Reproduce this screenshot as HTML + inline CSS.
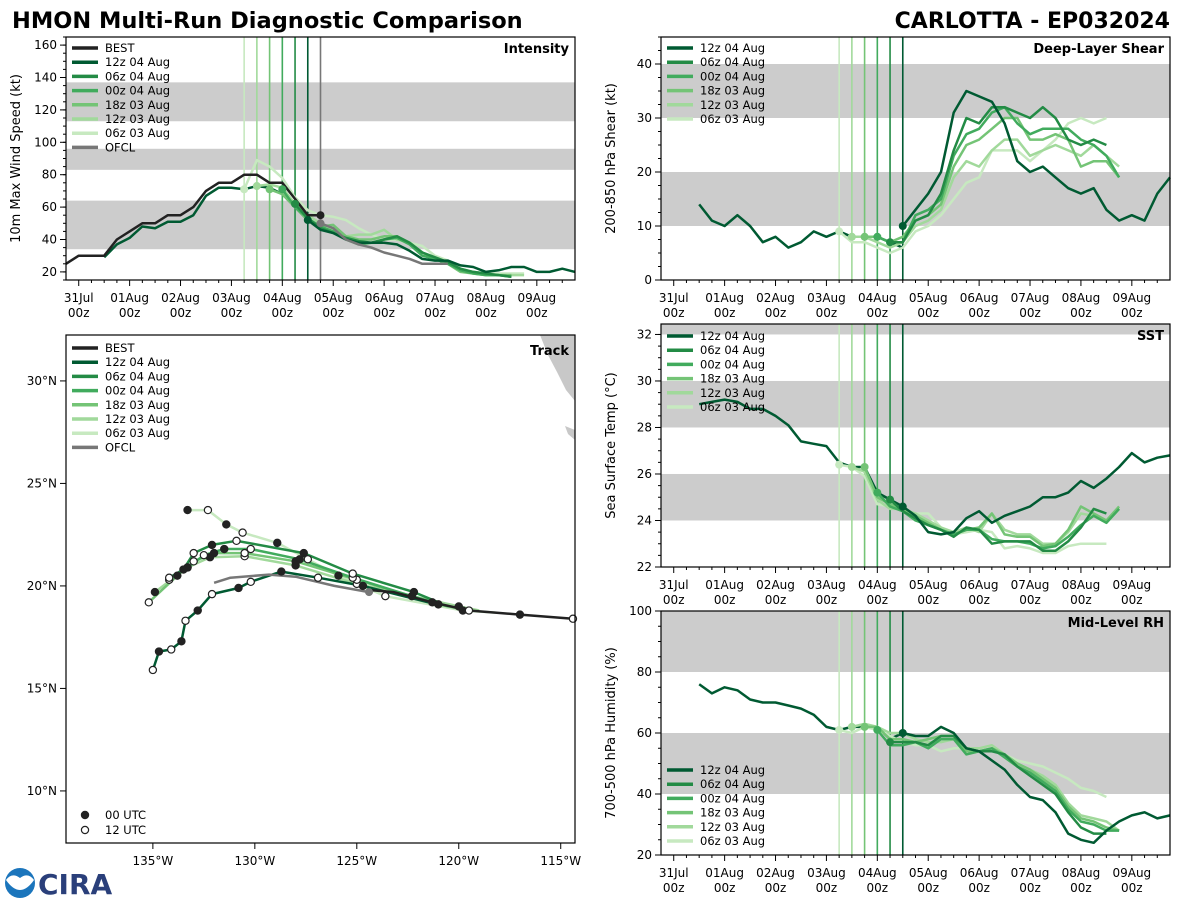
<!DOCTYPE html>
<html><head><meta charset="utf-8"><style>
html,body{margin:0;padding:0;background:#fff;width:1200px;height:900px;overflow:hidden}
svg text{font-family:"DejaVu Sans","Liberation Sans",sans-serif}
</style></head><body>
<svg id="chart" xmlns="http://www.w3.org/2000/svg" width="1200" height="900" viewBox="0 0 1200 900">
<text x="12" y="28" font-size="22.5" font-weight="bold" fill="#000">HMON Multi-Run Diagnostic Comparison</text>
<text x="1170" y="28" font-size="22" font-weight="bold" fill="#000" text-anchor="end">CARLOTTA - EP032024</text>
<g>
<circle cx="20" cy="883" r="15" fill="#1b75bc"/><path d="M6,880 Q20,900 34,880 Q28,872 20,878 Q12,872 6,880Z" fill="#fff"/>
<text x="38" y="894" font-size="28" font-weight="bold" fill="#2a3f7a" font-family="Liberation Serif,serif">CIRA</text>
</g>
</svg>
<script>
// ---------- data ----------
const runNames = ["12z 04 Aug","06z 04 Aug","00z 04 Aug","18z 03 Aug","12z 03 Aug","06z 03 Aug"];
const runColors = ["#005a32","#238b45","#41ab5d","#74c476","#a1d99b","#c7e9c0"];
const runInit = [4.5,4.25,4.0,3.75,3.5,3.25]; // days since 31Jul 00z
const dayLabels = ["31Jul","01Aug","02Aug","03Aug","04Aug","05Aug","06Aug","07Aug","08Aug","09Aug"];
const ofclInit = 4.75;
// intensity (6-hourly from start)
const bestStart = -0.25;
const bestVmax = [25,30,30,30,40,45,50,50,55,55,60,70,75,75,80,80,75,75,65,55,55];
const intHistStart = 0.5;
const intHist = [29,37,41,48,47,51,51,55,67,72,72,71,73,72,68,60,52];
const int12z04 = [52,46,44,40,38,38,38,37,33,28,27,27,24,23,20,21,23,23,20,20,22,20];
const int06z04 = [62,53,47,44,41,39,38,40,42,38,32,29,26,22,20,19,18,17];
const int00z04 = [71,60,53,48,45,40,37,38,40,41,37,30,28,25,21,19,18,18,17];
const int18z03 = [71,68,60,52,48,49,42,40,40,42,42,38,32,28,25,20,19,18,18,18];
const int12z03 = [73,74,72,62,55,50,46,42,43,43,46,40,38,32,29,26,21,20,19,18,18,18];
const int06z03 = [71,89,85,78,66,58,55,54,52,47,43,40,40,38,36,30,27,22,20,19,19,19,19];
const ofclVmax = [50,47,40,37,35,32,30,28,25,25,25];
// shear
const shrHist = [14,11,10,12,10,7,8,6,7,9,8,9,8,8,8,7,6];
const shr12z04 = [10,13,16,20,31,35,34,33,29,22,20,21,19,17,16,17,13,11,12,11,16,19];
const shr06z04 = [7,7,11,12,16,24,30,29,32,32,31,30,32,30,26,25,26,25];
const shr00z04 = [8,7,7,12,13,15,23,27,28,31,32,29,27,28,28,28,26,25,23,19];
const shr18z03 = [8,8,7,8,11,12,14,21,25,26,28,30,30,26,26,27,26,21,22,22,19];
const shr12z03 = [8,8,7,6,7,10,11,13,19,22,21,24,26,26,23,24,25,24,23,25,23,21];
const shr06z03 = [9,7,7,6,5,6,9,10,12,15,18,19,24,24,24,22,24,26,29,30,29,30];
// sst
const sstHist = [29.0,29.1,29.2,29.1,28.8,28.8,28.5,28.1,27.4,27.3,27.2,26.5,26.3,26.3,25.2,24.9,24.6];
const sst12z04 = [24.6,24.2,23.5,23.4,23.5,24.1,24.4,23.9,24.2,24.4,24.6,25.0,25.0,25.2,25.7,25.4,25.8,26.3,26.9,26.5,26.7,26.8];
const sst06z04 = [24.9,24.4,24.1,23.8,23.6,23.3,23.7,23.6,23.0,23.1,23.1,23.1,22.7,22.7,23.1,23.7,24.5,24.3];
const sst00z04 = [25.2,24.6,24.4,24.0,23.8,23.6,23.4,23.6,23.6,23.2,23.1,23.1,23.0,22.8,22.9,23.3,23.8,24.2,23.9,24.5];
const sst18z03 = [26.3,25.0,24.7,24.5,24.2,23.9,23.6,23.4,23.6,23.7,24.3,23.4,23.3,23.3,22.9,23.0,23.6,24.6,24.3,24.0,24.6];
const sst12z03 = [26.3,26.1,24.9,24.5,24.5,24.3,24.0,23.7,23.5,23.7,23.5,24.3,23.6,23.4,23.4,23.0,23.0,23.5,24.3,24.2,23.9,24.5];
const sst06z03 = [26.4,26.3,25.9,24.7,24.6,24.5,24.3,24.3,23.7,23.4,23.5,23.6,23.5,22.8,22.9,22.8,22.6,22.6,22.9,23.0,23.0,23.0];
// rh
const rhHist = [76,73,75,74,71,70,70,69,68,66,62,61,62,62,62,58,60];
const rh12z04 = [60,59,59,62,60,55,54,51,48,43,39,38,34,27,25,24,28,31,33,34,32,33];
const rh06z04 = [57,57,57,56,59,59,55,54,54,53,49,46,43,40,34,29,27,27];
const rh00z04 = [61,56,56,57,55,58,58,53,54,55,52,49,47,44,41,35,31,30,28,28];
const rh18z03 = [62,62,58,58,57,58,59,59,54,54,55,53,50,48,45,42,36,32,31,29,28];
const rh12z03 = [62,63,62,60,60,58,57,57,58,55,55,56,53,50,48,46,43,37,33,32,31,28];
const rh06z03 = [61,60,62,61,59,57,56,56,54,55,55,54,55,53,51,50,49,47,45,42,41,39];
// track (lon, lat)
const bestLon = [-114.4,-117.0,-119.5,-121.3,-123.2,-124.4];
const bestLat = [18.4,18.6,18.8,19.2,19.7,19.8];
const ofclLon = [-124.4,-126.1,-128.0,-129.3,-131.2,-132.0];
const ofclLat = [19.7,20.0,20.45,20.55,20.4,20.15];
const trk12z04Lon = [-121.5,-124.7,-126.9,-128.7,-130.2,-130.8,-132.1,-132.8,-133.4,-133.6,-134.1,-134.7,-135.0];
const trk12z04Lat = [19.2,20.0,20.4,20.7,20.2,19.9,19.6,18.8,18.3,17.3,16.9,16.8,15.9];
const trk06z04Lon = [-121.0,-122.2,-125.2,-127.6,-130.9,-132.1,-133.0,-133.5,-134.2];
const trk06z04Lat = [19.2,19.7,20.6,21.6,22.2,22.0,21.6,20.8,20.4];
const trk00z04Lon = [-120.5,-122.3,-125.2,-127.8,-130.2,-131.5,-132.5,-133.3,-134.2];
const trk00z04Lat = [19.0,19.5,20.4,21.3,21.8,21.8,21.5,20.9,20.3];
const trk18z03Lon = [-120.0,-121.0,-125.0,-128.0,-130.5,-132.0,-133.0,-133.8,-135.2];
const trk18z03Lat = [18.9,19.1,20.3,21.2,21.6,21.6,21.2,20.5,19.2];
const trk12z03Lon = [-119.0,-120.0,-125.0,-128.0,-130.5,-132.2,-133.3,-134.9];
const trk12z03Lat = [18.8,19.0,20.1,21.0,21.45,21.4,20.9,19.7];
const trk06z03Lon = [-118.2,-119.8,-123.6,-125.9,-127.4,-128.9,-130.6,-131.4,-132.3,-133.3];
const trk06z03Lat = [18.7,18.8,19.5,20.5,21.3,22.1,22.6,23.0,23.7,23.7];

// ---------- helpers ----------
const NS="http://www.w3.org/2000/svg";
const svg=document.getElementById('chart');
function mk(tag,attrs,parent){const e=document.createElementNS(NS,tag);for(const k in attrs)e.setAttribute(k,attrs[k]);(parent||svg).appendChild(e);return e;}
function txt(s,attrs,parent){const e=mk('text',attrs,parent);e.textContent=s;return e;}
function scale(d0,d1,r0,r1){return v=>r0+(v-d0)*(r1-r0)/(d1-d0);}
const X0=-0.25,X1=9.75;

function timePanel(name,box,ymin,ymax,bands,yticks,minorStep,ylabel,title,legendY,hist,runs,showBest){
  const g=mk('g',{});
  
  
  const sx=scale(X0,X1,box.x0,box.x1), sy=scale(ymin,ymax,box.y1,box.y0);
  bands.forEach(b=>{const r=mk('rect',{x:box.x0,y:sy(Math.min(b[1],ymax)),width:box.x1-box.x0,height:sy(b[0])-sy(Math.min(b[1],ymax)),fill:'#cccccc'},g);
    
    });
  yticks.forEach(v=>{mk('line',{x1:box.x0-6,x2:box.x0,y1:sy(v),y2:sy(v),stroke:'#000'},g);
    const t=txt(String(v),{x:box.x0-9,y:sy(v)+4,'font-size':12,'text-anchor':'end'},g);
    
    });
  for(let v=ymin;v<=ymax;v+=minorStep){mk('line',{x1:box.x0-3,x2:box.x0,y1:sy(v),y2:sy(v),stroke:'#000'},g);}
  dayLabels.forEach((d,i)=>{const x=sx(i);mk('line',{x1:x,x2:x,y1:box.y1,y2:box.y1+6,stroke:'#000'},g);
    const t=txt(d,{x:x,y:box.y1+22,'font-size':12,'text-anchor':'middle'},g);
    
    
    txt('00z',{x:x,y:box.y1+37,'font-size':12,'text-anchor':'middle'},g);});
  for(let v=0;v<X1;v+=0.25){if(Math.abs(v-Math.round(v))>0.01){mk('line',{x1:sx(v),x2:sx(v),y1:box.y1,y2:box.y1+3,stroke:'#000'},g);}}
  const yl=txt(ylabel,{x:0,y:0,'font-size':13,'text-anchor':'middle',transform:`translate(${box.x0-46},${(box.y0+box.y1)/2}) rotate(-90)`},g);
  
  
  runs.forEach(r=>{const l=mk('line',{x1:sx(r.t0),x2:sx(r.t0),y1:box.y0,y2:box.y1,stroke:r.c,'stroke-width':1.6},g);
    
    });
  if(showBest){const l=mk('line',{x1:sx(ofclInit),x2:sx(ofclInit),y1:box.y0,y2:box.y1,stroke:'#777','stroke-width':1.6},g);
    
    }
  function series(start,vals,color,w,nm){const pts=vals.map((v,i)=>sx(start+i*0.25).toFixed(1)+','+sy(v).toFixed(1)).join(' ');
    const p=mk('polyline',{points:pts,fill:'none',stroke:color,'stroke-width':w,'stroke-linejoin':'round'},g);
    
    return p;}
  series(intHistStart,hist,runColors[0],2.5,'history-line');
  [...runs].reverse().forEach(r=>{series(r.t0,r.v,r.c,2.5,'series-'+r.n.replace(/ /g,'-').toLowerCase());});
  if(showBest){series(ofclInit,ofclVmax,'#777',2.5,'ofcl-line');series(bestStart,bestVmax,'#222',2.5,'best-line');
    mk('circle',{cx:sx(4.75),cy:sy(bestVmax[bestVmax.length-1]),r:4,fill:'#222'},g);
    mk('circle',{cx:sx(ofclInit),cy:sy(ofclVmax[0]),r:4,fill:'#777'},g);}
  runs.forEach(r=>{const c=mk('circle',{cx:sx(r.t0),cy:sy(r.v[0]),r:4,fill:r.c},g);
    
    });
  mk('rect',{x:box.x0,y:box.y0,width:box.x1-box.x0,height:box.y1-box.y0,fill:'none',stroke:'#000','stroke-width':1.2},g);
  const tt=txt(title,{x:box.x1-6,y:box.y0+16,'font-size':13,'font-weight':'bold','text-anchor':'end'},g);
  
  
  let entries=[];if(showBest)entries.push(['BEST','#222']);
  runNames.forEach((n,i)=>entries.push([n,runColors[i]]));if(showBest)entries.push(['OFCL','#777']);
  entries.forEach((e,i)=>{const y=legendY+i*14.2;
    const le=mk('g',{},g);
    
    
    mk('line',{x1:box.x0+6,x2:box.x0+32,y1:y,y2:y,stroke:e[1],'stroke-width':3.5},le);
    txt(e[0],{x:box.x0+39,y:y+4,'font-size':11.5},le);});
}
function runs(arrs){return arrs.map((v,i)=>({n:runNames[i],c:runColors[i],t0:runInit[i],v:v}));}

timePanel('intensity',{x0:66,x1:575,y0:37,y1:280},15,165,[[34,64],[83,96],[113,137]],[20,40,60,80,100,120,140,160],5,'10m Max Wind Speed (kt)','Intensity',48,intHist,runs([int12z04,int06z04,int00z04,int18z03,int12z03,int06z03]),true);
timePanel('shear',{x0:661,x1:1170,y0:37,y1:280},0,45,[[10,20],[30,40]],[0,10,20,30,40],2.5,'200-850 hPa Shear (kt)','Deep-Layer Shear',48,shrHist,runs([shr12z04,shr06z04,shr00z04,shr18z03,shr12z03,shr06z03]),false);
timePanel('sst',{x0:661,x1:1170,y0:324,y1:567},22,32.45,[[24,26],[28,30],[32,33]],[22,24,26,28,30,32],0.5,'Sea Surface Temp (°C)','SST',336,sstHist,runs([sst12z04,sst06z04,sst00z04,sst18z03,sst12z03,sst06z03]),false);
timePanel('rh',{x0:661,x1:1170,y0:611,y1:855},20,100,[[40,60],[80,100]],[20,40,60,80,100],5,'700-500 hPa Humidity (%)','Mid-Level RH',770,rhHist,runs([rh12z04,rh06z04,rh00z04,rh18z03,rh12z03,rh06z03]),false);

// ---------- track panel ----------
(function(){
  const box={x0:66,x1:575,y0:335,y1:843};
  const g=mk('g',{});
  
  
  const sx=scale(-139.26,-114.3,box.x0,box.x1), sy=scale(7.46,32.24,box.y1,box.y0);
  const land=mk('path',{d:'M540,335 L575,335 L575,401 L566,390 L557,372 L548,355 Z M565,426 L575,430 L575,440 L568,434 Z',fill:'#c8c8c8'},g);
  
  
  [10,15,20,25,30].forEach(v=>{mk('line',{x1:box.x0-6,x2:box.x0,y1:sy(v),y2:sy(v),stroke:'#000'},g);
    const t=txt(v+'°N',{x:box.x0-9,y:sy(v)+4,'font-size':12,'text-anchor':'end'},g);
    
    });
  [-135,-130,-125,-120,-115].forEach(v=>{mk('line',{x1:sx(v),x2:sx(v),y1:box.y1,y2:box.y1+6,stroke:'#000'},g);
    const t=txt((-v)+'°W',{x:sx(v),y:box.y1+22,'font-size':12,'text-anchor':'middle'},g);
    
    });
  function trk(lon,lat,color,nm){const pts=lon.map((v,i)=>sx(v).toFixed(1)+','+sy(lat[i]).toFixed(1)).join(' ');
    const p=mk('polyline',{points:pts,fill:'none',stroke:color,'stroke-width':2.5,'stroke-linejoin':'round'},g);
    
    }
  const tl=[[trk06z03Lon,trk06z03Lat],[trk12z03Lon,trk12z03Lat],[trk18z03Lon,trk18z03Lat],[trk00z04Lon,trk00z04Lat],[trk06z04Lon,trk06z04Lat],[trk12z04Lon,trk12z04Lat]];
  tl.forEach((t,i)=>trk(t[0],t[1],runColors[5-i],'track-'+runNames[5-i].replace(/ /g,'-').toLowerCase()));
  trk(ofclLon,ofclLat,'#777','track-ofcl');
  trk(bestLon,bestLat,'#222','track-best');
  tl.forEach(t=>{t[0].forEach((v,i)=>{if(i===0)return;const c=mk('circle',{cx:sx(v),cy:sy(t[1][i]),r:3.6,fill:i%2?'#222':'#fff',stroke:'#222','stroke-width':1.2},g);
    
    });});
  bestLon.forEach((v,i)=>{if(i>3)return;const c=mk('circle',{cx:sx(v),cy:sy(bestLat[i]),r:3.6,fill:i%2?'#222':'#fff',stroke:'#222','stroke-width':1.2},g);
    
    });
  mk('circle',{cx:sx(ofclLon[0]),cy:sy(ofclLat[0]),r:4,fill:'#777'},g);
  mk('rect',{x:box.x0,y:box.y0,width:box.x1-box.x0,height:box.y1-box.y0,fill:'none',stroke:'#000','stroke-width':1.2},g);
  const tt=txt('Track',{x:box.x1-6,y:box.y0+20,'font-size':13,'font-weight':'bold','text-anchor':'end'},g);
  
  
  const entries=[['BEST','#222']];runNames.forEach((n,i)=>entries.push([n,runColors[i]]));entries.push(['OFCL','#777']);
  entries.forEach((e,i)=>{const y=348+i*14.2;
    const le=mk('g',{},g);
    
    
    mk('line',{x1:72,x2:98,y1:y,y2:y,stroke:e[1],'stroke-width':3.5},le);
    txt(e[0],{x:105,y:y+4,'font-size':11.5},le);});
  [['00 UTC','#222',815],['12 UTC','#fff',830]].forEach(e=>{const le=mk('g',{},g);
    
    
    mk('circle',{cx:85,cy:e[2],r:3.6,fill:e[1],stroke:'#222','stroke-width':1.2},le);
    txt(e[0],{x:105,y:e[2]+4,'font-size':11.5},le);});
})();
</script>
</body></html>
